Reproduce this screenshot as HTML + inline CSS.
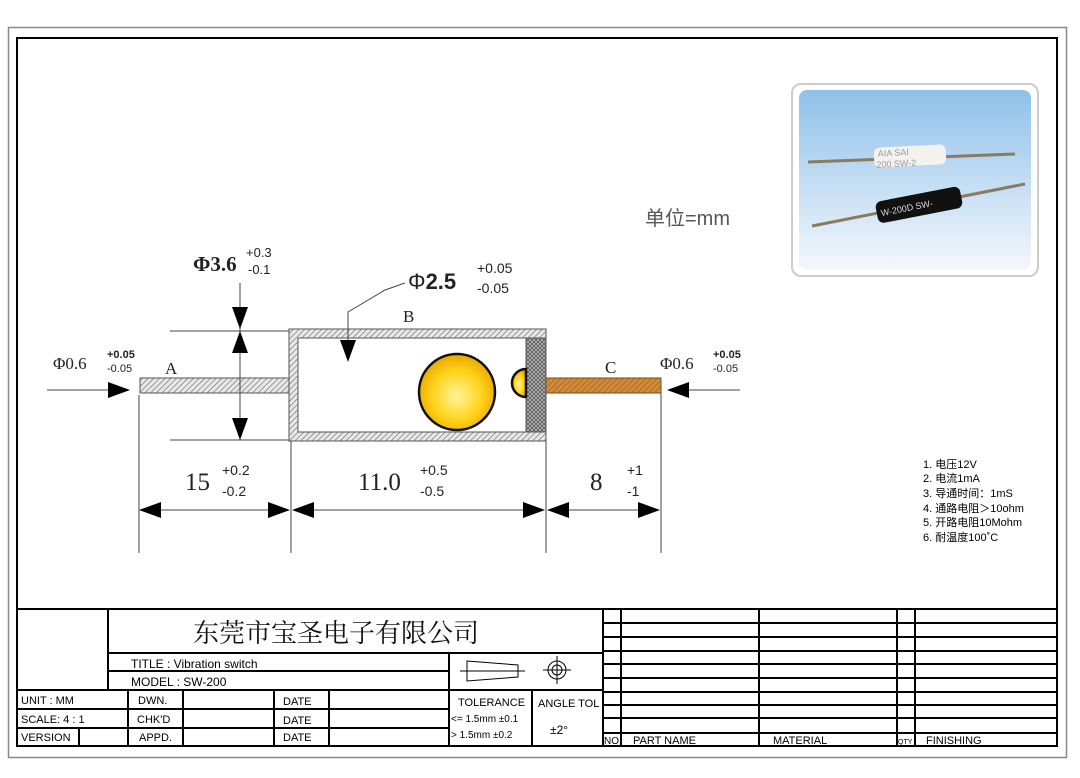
<!DOCTYPE html>
<html><head><meta charset="utf-8"><style>
html,body{margin:0;padding:0;background:#fff;}
svg{display:block;}
text{font-family:"Liberation Sans","Noto Sans CJK SC",sans-serif;}
.sf{font-family:"Liberation Serif","Noto Serif CJK SC",serif;}
.mono{font-family:"Liberation Sans Narrow","Liberation Sans","Noto Sans CJK SC",sans-serif;}
</style></head><body>
<svg width="1080" height="778" viewBox="0 0 1080 778" xmlns="http://www.w3.org/2000/svg">
<defs>
<pattern id="hatch" width="4" height="4" patternUnits="userSpaceOnUse" patternTransform="rotate(45)">
<rect width="4" height="4" fill="#e8e8e8"/><line x1="0" y1="0" x2="0" y2="4" stroke="#666" stroke-width="1.2"/></pattern>
<pattern id="hatchO" width="4" height="4" patternUnits="userSpaceOnUse" patternTransform="rotate(45)">
<rect width="4" height="4" fill="#d08a3a"/><line x1="0" y1="0" x2="0" y2="4" stroke="#9a5a1a" stroke-width="1.2"/></pattern>
<pattern id="cross" width="4" height="4" patternUnits="userSpaceOnUse">
<rect width="4" height="4" fill="#bbb"/><path d="M0 0L4 4M4 0L0 4" stroke="#555" stroke-width="0.8"/></pattern>
<radialGradient id="ball" cx="0.5" cy="0.55" r="0.55"><stop offset="0" stop-color="#fff59a"/><stop offset="0.6" stop-color="#ffd21a"/><stop offset="1" stop-color="#e8a800"/></radialGradient>
<linearGradient id="sky" x1="0" y1="0" x2="0" y2="1"><stop offset="0" stop-color="#8fc0ea"/><stop offset="1" stop-color="#f4f8fc"/></linearGradient>
</defs>
<rect x="8.5" y="27.5" width="1058" height="730" fill="none" stroke="#888" stroke-width="1.5"/>
<rect x="17" y="38" width="1040" height="708" fill="none" stroke="#000" stroke-width="2"/>

<!-- photo -->
<rect x="792" y="84" width="246" height="192" rx="9" fill="#fff" stroke="#ccc" stroke-width="2"/>
<rect x="799" y="90" width="232" height="180" rx="8" fill="url(#sky)"/>
<line x1="808" y1="162" x2="1015" y2="154" stroke="#8a7a60" stroke-width="3"/>
<rect x="874" y="146" width="72" height="20" rx="6" fill="#f4f2ee" transform="rotate(-3 910 156)"/>
<text x="878" y="155" font-size="9" fill="#999" transform="rotate(-3 910 156)">AIA    SAI</text>
<text x="876" y="166" font-size="9" fill="#999" transform="rotate(-3 910 156)">200 SW-2</text>
<line x1="812" y1="226" x2="1025" y2="184" stroke="#8a7a60" stroke-width="3"/>
<rect x="876" y="194" width="86" height="22" rx="6" fill="#111" transform="rotate(-11 918 205)"/>
<text x="880" y="209" font-size="9" fill="#ddd" transform="rotate(-11 918 205)">W-200D SW-</text>

<text x="645" y="225" font-size="20" fill="#555">单位=mm</text>

<!-- notes -->
<g font-size="11" fill="#000">
<text x="923" y="468">1. 电压12V</text>
<text x="923" y="482">2. 电流1mA</text>
<text x="923" y="497">3. 导通时间：1mS</text>
<text x="923" y="512">4. 通路电阻＞10ohm</text>
<text x="923" y="526">5. 开路电阻10Mohm</text>
<text x="923" y="541">6. 耐温度100˚C</text>
</g>

<!-- component -->
<rect x="140" y="378" width="150" height="15" fill="url(#hatch)" stroke="#555"/>
<rect x="546" y="378" width="115" height="15" fill="url(#hatchO)" stroke="#7a4a10"/>
<path d="M289 329H546V441H289Z M298 338V432H526V338Z" fill="url(#hatch)" fill-rule="evenodd" stroke="#555"/>
<rect x="526" y="338" width="20" height="94" fill="url(#cross)" stroke="#555"/>
<circle cx="457" cy="392" r="38" fill="url(#ball)" stroke="#111" stroke-width="2.5"/>
<path d="M526 369 A14 14 0 0 0 526 397 Z" fill="url(#ball)" stroke="#111" stroke-width="2.5"/>

<g stroke="#444" stroke-width="1" fill="none">
<line x1="139" y1="395" x2="139" y2="553"/>
<line x1="291" y1="441" x2="291" y2="553"/>
<line x1="546" y1="441" x2="546" y2="553"/>
<line x1="661" y1="393" x2="661" y2="553"/>
<line x1="170" y1="331" x2="289" y2="331"/>
<line x1="170" y1="440" x2="289" y2="440"/>
<line x1="240" y1="283" x2="240" y2="440"/>
<line x1="145" y1="510" x2="285" y2="510"/>
<line x1="297" y1="510" x2="540" y2="510"/>
<line x1="552" y1="510" x2="655" y2="510"/>
<line x1="47" y1="390" x2="120" y2="390"/>
<line x1="680" y1="390" x2="740" y2="390"/>
<polyline points="405,283 385,290 348,312 348,345"/>
</g>
<g fill="#000">
<path d="M139 510l22-8v16z M290 510l-22-8v16z M292 510l22-8v16z M545 510l-22-8v16z M547 510l22-8v16z M660 510l-22-8v16z"/>
<path d="M240 329l-8-22h16z M240 331l-8 22h16z M240 440l-8-22h16z"/>
<path d="M130 390l-22-8v16z M667 390l22-8v16z"/>
<path d="M348 362l-8-22h16z"/>
</g>

<g fill="#222">
<text x="193" y="271" font-size="21" font-weight="bold" class="sf">Φ3.6</text>
<text x="246" y="257" font-size="13">+0.3</text>
<text x="248" y="274" font-size="13">-0.1</text>
<text x="408" y="289" font-size="22">Φ<tspan font-weight="bold">2.5</tspan></text>
<text x="477" y="273" font-size="14">+0.05</text>
<text x="477" y="293" font-size="14">-0.05</text>
<text x="403" y="322" font-size="17" class="sf">B</text>
<text x="165" y="374" font-size="17" class="sf">A</text>
<text x="605" y="373" font-size="17" class="sf">C</text>
<text x="53" y="369" font-size="17" class="sf">Φ0.6</text>
<text x="107" y="358" font-size="11" font-weight="bold">+0.05</text>
<text x="107" y="372" font-size="11">-0.05</text>
<text x="660" y="369" font-size="17" class="sf">Φ0.6</text>
<text x="713" y="358" font-size="11" font-weight="bold">+0.05</text>
<text x="713" y="372" font-size="11">-0.05</text>
<text x="185" y="490" font-size="25" class="sf">15</text>
<text x="222" y="475" font-size="14">+0.2</text>
<text x="222" y="496" font-size="14">-0.2</text>
<text x="358" y="490" font-size="25" class="sf">11.0</text>
<text x="420" y="475" font-size="14">+0.5</text>
<text x="420" y="496" font-size="14">-0.5</text>
<text x="590" y="490" font-size="25" class="sf">8</text>
<text x="627" y="475" font-size="14">+1</text>
<text x="627" y="496" font-size="14">-1</text>
</g>

<!-- title block -->
<g stroke="#000" stroke-width="2" fill="none">
<line x1="17" y1="609" x2="1057" y2="609"/>
<line x1="108" y1="653" x2="603" y2="653"/>
<line x1="108" y1="671" x2="449" y2="671"/>
<line x1="17" y1="690" x2="603" y2="690"/>
<line x1="17" y1="709" x2="449" y2="709"/>
<line x1="17" y1="728" x2="449" y2="728"/>
<line x1="108" y1="609" x2="108" y2="690"/>
<line x1="449" y1="653" x2="449" y2="746"/>
<line x1="532" y1="690" x2="532" y2="746"/>
<line x1="603" y1="609" x2="603" y2="746"/>
<line x1="79" y1="728" x2="79" y2="746"/>
<line x1="128" y1="690" x2="128" y2="746"/>
<line x1="183" y1="690" x2="183" y2="746"/>
<line x1="274" y1="690" x2="274" y2="746"/>
<line x1="329" y1="690" x2="329" y2="746"/>
<line x1="621" y1="609" x2="621" y2="746"/>
<line x1="759" y1="609" x2="759" y2="746"/>
<line x1="897" y1="609" x2="897" y2="746"/>
<line x1="915" y1="609" x2="915" y2="746"/>
<line x1="603" y1="623" x2="1057" y2="623"/>
<line x1="603" y1="637" x2="1057" y2="637"/>
<line x1="603" y1="651" x2="1057" y2="651"/>
<line x1="603" y1="664" x2="1057" y2="664"/>
<line x1="603" y1="678" x2="1057" y2="678"/>
<line x1="603" y1="692" x2="1057" y2="692"/>
<line x1="603" y1="705" x2="1057" y2="705"/>
<line x1="603" y1="718" x2="1057" y2="718"/>
<line x1="603" y1="733" x2="1057" y2="733"/>
</g>
<g stroke="#000" stroke-width="1" fill="none">
<path d="M467 661L518 665V677L467 681Z"/>
<line x1="460" y1="671" x2="525" y2="671"/>
<circle cx="557" cy="670" r="9"/><circle cx="557" cy="670" r="5"/>
<line x1="543" y1="670" x2="571" y2="670"/><line x1="557" y1="656" x2="557" y2="684"/>
</g>
<g fill="#000" class="mono">
<text x="193" y="642" font-size="26" fill="#111" style="font-family:'Noto Serif CJK SC',serif">东莞市宝圣电子有限公司</text>
<text x="131" y="668" font-size="12">TITLE  : Vibration switch</text>
<text x="131" y="686" font-size="12">MODEL  : SW-200</text>
<text x="21" y="704" font-size="11">UNIT  : MM</text>
<text x="21" y="723" font-size="11">SCALE: 4 : 1</text>
<text x="21" y="741" font-size="11">VERSION</text>
<text x="138" y="704" font-size="11">DWN.</text>
<text x="137" y="723" font-size="11">CHK'D</text>
<text x="139" y="741" font-size="11">APPD.</text>
<text x="283" y="705" font-size="11">DATE</text>
<text x="283" y="724" font-size="11">DATE</text>
<text x="283" y="741" font-size="11">DATE</text>
<text x="458" y="706" font-size="11">TOLERANCE</text>
<text x="538" y="707" font-size="11">ANGLE TOL</text>
<text x="451" y="722" font-size="10">&lt;= 1.5mm ±0.1</text>
<text x="451" y="738" font-size="10">&gt;  1.5mm ±0.2</text>
<text x="550" y="734" font-size="12">±2°</text>
<text x="604" y="744" font-size="10">NO.</text>
<text x="633" y="744" font-size="11">PART NAME</text>
<text x="773" y="744" font-size="11">MATERIAL</text>
<text x="898" y="744" font-size="7">QTY</text>
<text x="926" y="744" font-size="11">FINISHING</text>
</g>
</svg>
</body></html>
